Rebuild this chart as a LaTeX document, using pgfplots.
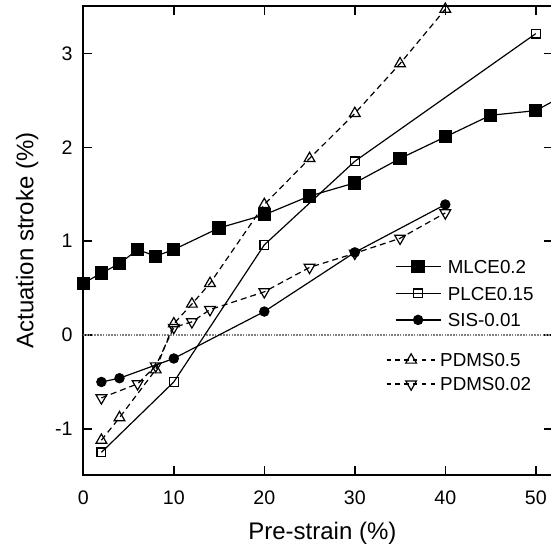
\documentclass[border=0pt]{standalone}
\usepackage{fontspec}
\setmainfont{Liberation Sans}
\usepackage{pgfplots}
\pgfplotsset{compat=1.18}
\begin{document}
\begin{tikzpicture}
\pgfplotsset{
  mylim/.style={width=234.85pt, height=234.5pt, scale only axis,
    xmin=0, xmax=51.9, ymin=-1.491, ymax=3.504},
  sMLCE/.style={black, line width=0.6pt, mark=square*, mark size=3pt, mark options={solid, fill=black}},
  sPLCE/.style={black, line width=0.6pt, mark=square, mark size=2.2pt, mark options={solid, fill=white}},
  sSIS/.style={black, line width=0.6pt, mark=*, mark size=2.3pt, mark options={solid, fill=black}},
  sPA/.style={black, line width=0.6pt, dash pattern=on 3pt off 2pt, mark=triangle, mark size=3.1pt, mark options={solid, fill=white}},
  sPB/.style={black, line width=0.6pt, dash pattern=on 3pt off 2pt, mark=triangle, mark size=3.1pt, mark options={solid, fill=white, rotate=180}},
}
\begin{axis}[name=main, mylim,
  axis line style={line width=0.8pt},
  major tick style={line width=0.7pt, black},
  major tick length=4.5pt,
  xtick={0,10,...,50}, ytick={-1,0,1,2,3},
  tick label style={font=\fontsize{9.8}{11}\selectfont},
  /pgf/number format/assume math mode=true,
  xticklabel style={yshift=-4.5pt},
  yticklabel style={xshift=-1.8pt},
  xlabel={Pre-strain (\%)}, ylabel={Actuation stroke (\%)},
  every axis x label/.style={at={(axis description cs:0.509,-0.1365)}, anchor=base, font=\fontsize{12}{14}\selectfont},
  every axis y label/.style={at={(axis description cs:-0.1065,0.5)}, anchor=base, rotate=90, font=\fontsize{12}{14}\selectfont},
]
\addplot[gray, line width=0.8pt, dash pattern=on 0.8pt off 0.6pt, forget plot] coordinates {(0,0) (51.9,0)};
\addplot[sMLCE] coordinates {(0,0.55) (2,0.66) (4,0.76) (6,0.91) (8,0.84) (10,0.91) (15,1.14) (20,1.28) (25,1.48) (30,1.62) (35,1.88) (40,2.11) (45,2.34) (50,2.39) (55,2.65)};
\addplot[sPLCE] coordinates {(2,-1.25) (10,-0.50) (20,0.96) (30,1.85) (50,3.21)};
\addplot[sSIS] coordinates {(2,-0.50) (4,-0.46) (10,-0.25) (20,0.25) (30,0.88) (40,1.39)};
\addplot[sPA] coordinates {(2,-1.12) (4,-0.88) (8,-0.37) (10,0.12) (12,0.33) (14,0.55) (20,1.39) (25,1.88) (30,2.36) (35,2.89) (40,3.47)};
\addplot[sPB] coordinates {(2,-0.67) (6,-0.52) (8,-0.33) (10,0.08) (12,0.14) (14,0.27) (20,0.46) (25,0.72) (30,0.87) (35,1.03) (40,1.30)};
\end{axis}
\begin{axis}[mylim, hide axis,
  legend cell align=left,
  legend style={at={(axis description cs:0.6636,0.3874)}, anchor=west, draw=none, fill=none,
    inner sep=0pt, outer sep=0pt, row sep=6.5pt, font=\fontsize{9.4}{11}\selectfont,
    nodes={inner sep=0pt, text height=6.8pt, text depth=0pt},
    /tikz/column 1/.style={column sep=3.3pt}},
  legend image code/.code={\draw[mark repeat=2, mark phase=2, #1] plot coordinates {(0pt,0pt) (11.25pt,0pt) (22.5pt,0pt)};},
]
\addplot[draw=none, forget plot] coordinates {(0,0)};
\addlegendimage{sMLCE}\addlegendentry{MLCE0.2}
\addlegendimage{sPLCE}\addlegendentry{PLCE0.15}
\addlegendimage{sSIS}\addlegendentry{SIS-0.01}
\end{axis}
\begin{axis}[mylim, hide axis,
  legend cell align=left,
  legend style={at={(axis description cs:0.6445,0.2196)}, anchor=west, draw=none, fill=none,
    inner sep=0pt, outer sep=0pt, row sep=5.2pt, font=\fontsize{9.4}{11}\selectfont,
    nodes={inner sep=0pt, text height=6.8pt, text depth=0pt},
    /tikz/column 1/.style={column sep=2pt}},
  legend image code/.code={\draw[mark repeat=2, mark phase=2, dash pattern=on 2.2pt off 2.2pt, #1] plot coordinates {(0pt,0pt) (12.25pt,0pt) (24.5pt,0pt)};},
]
\addplot[draw=none, forget plot] coordinates {(0,0)};
\addlegendimage{sPA, dash pattern=on 2.2pt off 2.2pt}\addlegendentry{PDMS0.5}
\addlegendimage{sPB, dash pattern=on 2.2pt off 2.2pt}\addlegendentry{PDMS0.02}
\end{axis}
\pgfresetboundingbox
\path[use as bounding box] ([xshift=-41.65pt, yshift=-36.5pt]main.south west) rectangle ([xshift=-1pt, yshift=3pt]main.north east);
\end{tikzpicture}
\end{document}
